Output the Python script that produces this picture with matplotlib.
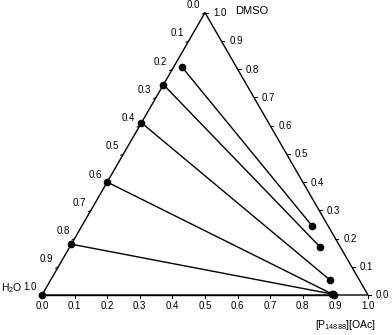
import numpy as np
import matplotlib
matplotlib.use("Agg")
import matplotlib.pyplot as plt

# =========================
# DATA (mass fractions)
# =========================
# IL-poor phase (left ends of tie lines)
LEFT_IL = [0.025, 0.0, 0.0, 0.0, 0.0, 0.0]
LEFT_DMSO = [0.808, 0.745, 0.61, 0.40, 0.18, 0.0]
# IL-rich phase (right ends of tie lines)
RIGHT_IL = [0.707, 0.768, 0.857, 0.887, 0.890, 0.895]
RIGHT_DMSO = [0.244, 0.170, 0.053, 0.004, 0.003, 0.0]

TICKS = [0.0, 0.1, 0.2, 0.3, 0.4, 0.5, 0.6, 0.7, 0.8, 0.9, 1.0]
TICK_LABELS = [f"{t:.1f}" for t in TICKS]

plt.rcParams["font.family"] = ["Liberation Sans", "DejaVu Sans"]
plt.rcParams["mathtext.fontset"] = "custom"
plt.rcParams["mathtext.rm"] = "Liberation Sans"
plt.rcParams["mathtext.it"] = "Liberation Sans:italic"

H = np.sqrt(3) / 2


def to_xy(il, dmso):
    il = np.asarray(il, dtype=float)
    dmso = np.asarray(dmso, dtype=float)
    return il + dmso / 2, dmso * H


# =========================
# FIGURE
# =========================
W, HT = 392, 335
X0, Y0, SCALE = 42, 295, 326  # pixel position of the H2O corner and side length

fig = plt.figure(figsize=(W / 100, HT / 100), dpi=100)
ax = fig.add_axes([0, 0, 1, 1])
ax.set_xlim(-X0 / SCALE, (W - X0) / SCALE)
ax.set_ylim((Y0 - HT) / SCALE, Y0 / SCALE)
ax.axis("off")

px = 1 / SCALE  # one pixel in data units

# triangle frame
ax.plot([0, 1, 0.5, 0], [0, 0, H, 0], color="black", lw=1.0, solid_joinstyle="miter")

fs = 7
tl = 3 * px
for t, lab in zip(TICKS, TICK_LABELS):
    # bottom axis: IL fraction
    ax.plot([t, t], [0, -tl], color="black", lw=0.7)
    ax.text(t, -11 * px, lab, ha="center", va="center", fontsize=fs)
    # right axis: DMSO fraction
    x, y = to_xy(1 - t, t)
    ax.plot([x, x + tl], [y, y], color="black", lw=0.7)
    ax.text(x + 8 * px, y - 0.5 * px, lab, ha="left", va="center", fontsize=fs)
    # left axis: H2O fraction
    x, y = to_xy(0, 1 - t)
    ax.plot([x, x - tl * 0.9], [y, y - tl * 0.5], color="black", lw=0.7)
    ax.text(x - 5 * px, y + 7.5 * px, lab, ha="right", va="center", fontsize=fs)

# tie lines
lx, ly = to_xy(LEFT_IL, LEFT_DMSO)
rx, ry = to_xy(RIGHT_IL, RIGHT_DMSO)
for i in range(len(lx)):
    ax.plot([lx[i], rx[i]], [ly[i], ry[i]], color="black", lw=1.0)
ax.plot(lx, ly, "o", color="black", ms=4.5)
ax.plot(rx, ry, "o", color="black", ms=4.5)

# corner labels
ax.text(0.5 + 30 * px, H + 2 * px, "DMSO", ha="left", va="center", fontsize=8)
ax.text(-41 * px, 7 * px, "H$_2$O", ha="left", va="center", fontsize=7.5)
ax.text(1 + 8 * px, -30 * px, "[P$_{14888}$][OAc]", ha="right", va="center", fontsize=7.5)

fig.savefig("out.png", dpi=100)
